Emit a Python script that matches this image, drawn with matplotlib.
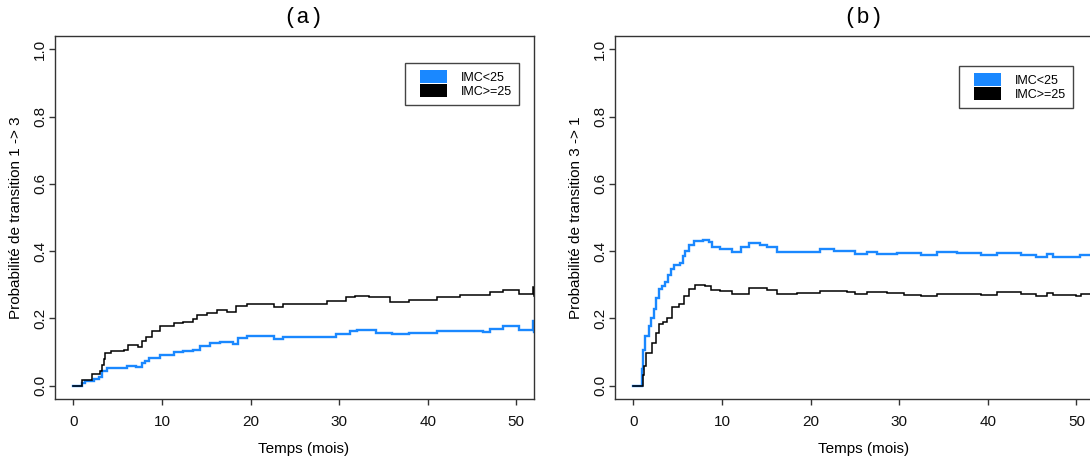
import matplotlib
matplotlib.use("Agg")
import matplotlib.pyplot as plt
from matplotlib.patches import Patch, Rectangle
from matplotlib.legend_handler import HandlerPatch
import matplotlib.transforms as mtransforms

# ---------------- data ----------------
labels = ["IMC<25", "IMC>=25"]
titles = ["(a)", "(b)"]
ylabels = ["Probabilité de transition 1 -> 3", "Probabilité de transition 3 -> 1"]
xlabel = "Temps (mois)"
xticks = [0, 10, 20, 30, 40, 50]
yticks = [0.0, 0.2, 0.4, 0.6, 0.8, 1.0]

# panel (a): transition 1 -> 3
a_low_t = [0, 0.98, 1.35, 2.3, 2.9, 3.2, 3.8, 6.0, 7.1, 7.7, 8.1, 8.5, 9.8, 11.3, 12.4,
           13.5, 14.3, 15.4, 16.5, 18.05, 18.6, 19.6, 22.6, 23.7, 27.8, 29.7, 31.2, 32.0,
           34.2, 36.0, 37.9, 40.6, 41.0, 46.2, 47.0, 48.5, 50.3, 51.9, 51.95, 52]
a_low_p = [0, 0.008, 0.015, 0.02, 0.025, 0.043, 0.053, 0.058, 0.056, 0.066, 0.074, 0.082,
           0.092, 0.099, 0.102, 0.107, 0.117, 0.127, 0.13, 0.125, 0.142, 0.147, 0.139,
           0.144, 0.145, 0.152, 0.162, 0.164, 0.155, 0.152, 0.157, 0.155, 0.161, 0.16,
           0.167, 0.177, 0.165, 0.192, 0.158, 0.158]
a_high_t = [0, 0.98, 2.1, 2.96, 3.2, 3.4, 3.6, 4.2, 5.67, 6.2, 7.3, 7.7, 8.2, 8.86, 9.8,
            11.3, 12.4, 13.5, 13.9, 15.1, 16.2, 17.3, 18.4, 19.6, 22.6, 23.7, 27.1, 28.6,
            30.8, 31.8, 33.4, 35.7, 37.9, 41.0, 43.6, 47.0, 48.5, 50.3, 51.9, 51.95, 52]
a_high_p = [0, 0.018, 0.033, 0.043, 0.06, 0.08, 0.098, 0.103, 0.107, 0.12, 0.116, 0.132,
            0.145, 0.162, 0.177, 0.185, 0.189, 0.197, 0.209, 0.215, 0.225, 0.219, 0.237,
            0.242, 0.235, 0.242, 0.244, 0.252, 0.262, 0.267, 0.262, 0.25, 0.254, 0.262,
            0.269, 0.277, 0.285, 0.272, 0.293, 0.265, 0.265]

# panel (b): transition 3 -> 1
b_low_t = [0, 1.0, 1.09, 1.35, 1.73, 2.0, 2.29, 2.6, 2.86, 3.2, 3.6, 3.9, 4.2, 4.55, 5.3,
           5.6, 5.87, 6.24, 6.8, 7.9, 8.5, 8.9, 9.8, 11.1, 12.1, 13.0, 14.3, 15.1, 16.2,
           18.5, 21.1, 22.6, 25.05, 26.4, 27.5, 29.8, 32.4, 34.3, 36.5, 39.2, 41.0, 43.7,
           45.4, 46.7, 47.4, 50.0, 50.4, 52]
b_low_p = [0, 0.05, 0.107, 0.147, 0.177, 0.2, 0.227, 0.26, 0.287, 0.295, 0.307, 0.33,
           0.346, 0.358, 0.366, 0.385, 0.401, 0.418, 0.431, 0.433, 0.426, 0.411, 0.406,
           0.398, 0.411, 0.423, 0.418, 0.411, 0.396, 0.398, 0.406, 0.401, 0.391, 0.398,
           0.391, 0.393, 0.388, 0.396, 0.394, 0.388, 0.394, 0.388, 0.381, 0.391, 0.383,
           0.381, 0.388, 0.388]
b_high_t = [0, 1.1, 1.16, 1.47, 2.1, 2.5, 2.86, 3.3, 3.8, 4.37, 5.1, 5.7, 6.24, 7.0, 8.1,
            8.7, 9.8, 11.1, 13.0, 15.1, 16.2, 18.5, 21.1, 24.1, 25.05, 26.4, 28.6, 30.5,
            32.4, 34.3, 39.2, 41.0, 43.7, 45.4, 46.7, 47.4, 50.0, 50.5, 52]
b_high_p = [0, 0.03, 0.058, 0.098, 0.127, 0.155, 0.182, 0.19, 0.202, 0.235, 0.242, 0.267,
            0.287, 0.299, 0.297, 0.285, 0.282, 0.272, 0.289, 0.284, 0.272, 0.275, 0.282,
            0.277, 0.272, 0.279, 0.275, 0.269, 0.267, 0.272, 0.27, 0.277, 0.272, 0.267,
            0.275, 0.269, 0.267, 0.272, 0.272]

panels = [
    (a_low_t, a_low_p, a_high_t, a_high_p),
    (b_low_t, b_low_p, b_high_t, b_high_p),
]

# ---------------- style ----------------
BLUE = "#1a88ff"
BLACK = "#000000"
AXC = "#333333"
plt.rcParams["font.family"] = ["Liberation Sans", "DejaVu Sans"]

W, H = 1090, 461
fig = plt.figure(figsize=(W / 100, H / 100), dpi=100)

# axes boxes in pixels: left, right, top, bottom
boxes = [(55, 534, 36, 399), (615, 1112.6, 36, 399)]
xlims = [(-2.08, 52.0), (-2.08, 54.08)]
leg_corner = [(519, 63), (1073, 66)]  # upper-right corner in px
xcenter = 26.0


def rect_func(legend, orig_handle, xdescent, ydescent, width, height, fontsize):
    extra = 5.0
    return Rectangle((-xdescent + extra, -ydescent), width - extra, height)


for i, (lt, lp, ht, hp) in enumerate(panels):
    l, r, t, b = boxes[i]
    ax = fig.add_axes([l / W, (H - b) / H, (r - l) / W, (b - t) / H])
    ax.step(lt, lp, where="post", color=BLUE, lw=1.7, solid_joinstyle="miter")
    ax.step(ht, hp, where="post", color=BLACK, lw=1.1, solid_joinstyle="miter")
    ax.set_xlim(*xlims[i])
    ax.set_ylim(-0.04, 1.04)
    ax.set_xticks(xticks)
    ax.set_xticklabels([str(v) for v in xticks])
    ax.set_yticks(yticks)
    ax.set_yticklabels([f"{v:.1f}" for v in yticks])
    for s in ax.spines.values():
        s.set_color(AXC)
        s.set_linewidth(1.0)
    ax.tick_params(axis="both", direction="out", length=4, width=1.0, color=AXC,
                   labelsize=11, labelcolor="#111111")
    ax.tick_params(axis="x", pad=7.5)
    ax.tick_params(axis="y", pad=1.5, labelrotation=90)
    for lab in ax.get_yticklabels():
        lab.set_va("center")

    wpx = r - l
    hpx = b - t
    x0, x1 = xlims[i]
    xc_frac = (xcenter - x0) / (x1 - x0)

    ax.set_xlabel(xlabel, fontsize=11)
    ax.xaxis.set_label_coords(xc_frac, -(449 - b) / hpx)
    ax.xaxis.label.set_va("center")
    ax.set_ylabel(ylabels[i], fontsize=11)
    ax.yaxis.set_label_coords(-39 / wpx, 0.5)
    ax.yaxis.label.set_va("center")

    trans = mtransforms.blended_transform_factory(ax.transData, ax.transAxes)
    ax.text(xcenter, 1 + (t - 18) / hpx, titles[i], transform=trans, ha="center",
            va="center", fontsize=16, family=["Liberation Mono", "DejaVu Sans Mono"])

    handles = [Patch(facecolor=BLUE, edgecolor="none"),
               Patch(facecolor=BLACK, edgecolor="none")]
    cx, cy = leg_corner[i]
    leg = ax.legend(handles, labels, loc="upper right",
                    bbox_to_anchor=(cx / W, (H - cy) / H),
                    bbox_transform=fig.transFigure, borderaxespad=0,
                    fontsize=9, frameon=True, fancybox=False, framealpha=1,
                    edgecolor="#444444", borderpad=0.6, labelspacing=0.0,
                    handlelength=2.7, handleheight=1.17, handletextpad=1.1,
                    handler_map={Patch: HandlerPatch(patch_func=rect_func)})
    leg.get_frame().set_linewidth(1.0)

fig.savefig("out.png", dpi=100)
